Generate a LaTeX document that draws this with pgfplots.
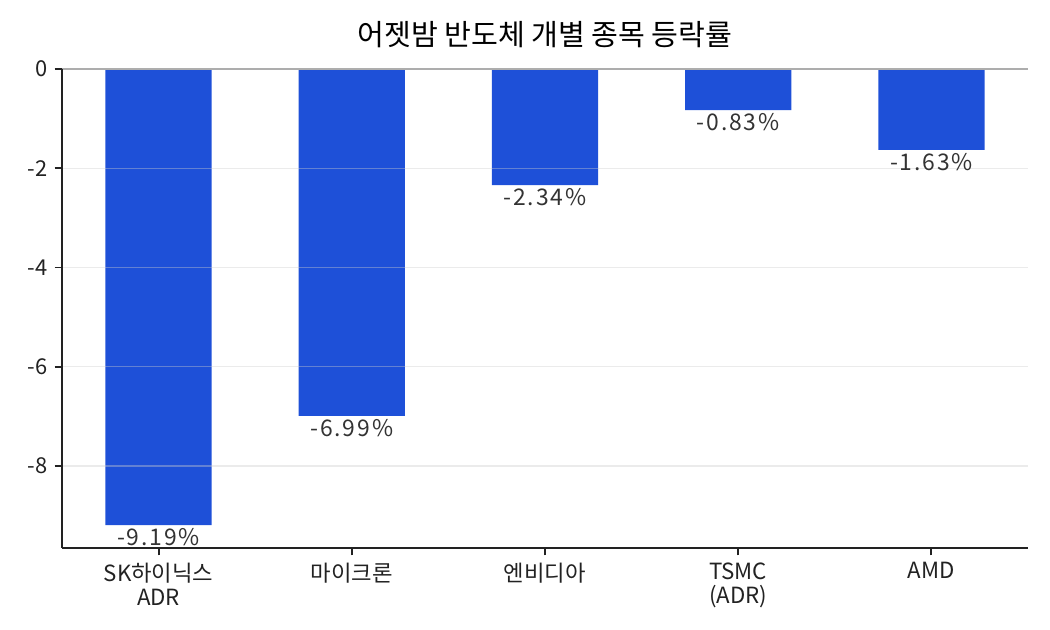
\documentclass[border=0pt]{standalone}
\usepackage{fontspec}
\setmainfont{Noto Sans CJK KR}
\usepackage{pgfplots}
\pgfplotsset{compat=1.18}
\definecolor{barblue}{RGB}{30,80,216}
\definecolor{labgray}{RGB}{51,51,51}
\definecolor{spine}{RGB}{34,34,34}
\begin{document}
\begin{tikzpicture}
\useasboundingbox (0,0) rectangle (504pt,302.4pt);
\begin{axis}[
  at={(29.76pt,39.36pt)}, anchor=south west,
  scale only axis, width=463.68pt, height=229.92pt,
  xmin=-0.5, xmax=4.5, ymin=-9.65, ymax=0,
  axis x line*=bottom, axis y line*=left,
  axis line style={spine, line width=0.9pt, -},
  xtick={0,1,2,3,4},
  xticklabels={{SK하이닉스\\ADR},마이크론,엔비디아,{TSMC\\(ADR)},AMD},
  xticklabel style={align=center, font=\fontsize{10.7}{11.6}\selectfont, text=spine},
  ytick={-8,-6,-4,-2,0},
  yticklabels={-8,-6,-4,-2,0},
  yticklabel style={font=\fontsize{10.5}{12}\selectfont, text=spine},
  tick align=outside, major tick length=3.5pt,
  tick style={spine, line width=0.9pt},
  ymajorgrids, grid style={black!20, line width=0.6pt, opacity=0.4},
  axis on top,
  ybar, bar width=0.55, bar shift=0pt,
  point meta=explicit symbolic,
  nodes near coords={\pgfplotspointmeta\%},
  nodes near coords style={font=\fontsize{11}{13}\selectfont\addfontfeatures{LetterSpace=8}, text=labgray, inner sep=0pt, anchor=north, yshift=-1.5pt},
  clip=false,
]
\addplot[fill=barblue, draw=none] coordinates {(0,-9.19) [-9.19] (1,-6.99) [-6.99] (2,-2.34) [-2.34] (3,-0.83) [-0.83] (4,-1.63) [-1.63]};
\draw[gray!80, line width=0.7pt] (axis cs:-0.5,0) -- (axis cs:4.5,0);
\end{axis}
\node[font=\fontsize{14}{16}\selectfont, text=black] at (261.6pt,285.6pt) {어젯밤 반도체 개별 종목 등락률};
\end{tikzpicture}
\end{document}
